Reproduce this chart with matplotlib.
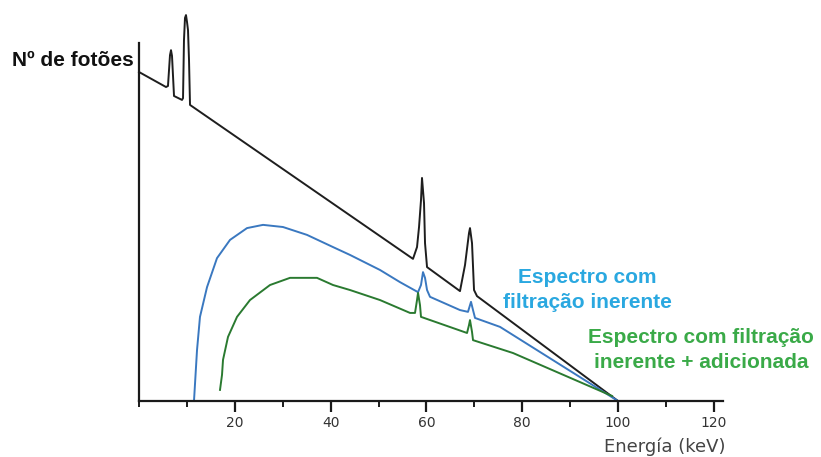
import numpy as np
import matplotlib.pyplot as plt
from matplotlib.ticker import MultipleLocator

# spectrum: energy (keV) vs photons (arbitrary units, 0-100)
black_e = [0, 5.64, 6.05, 6.47, 6.68, 6.89, 7.31, 8.98, 9.19, 9.39, 9.60, 9.81, 10.02, 10.23, 10.44, 10.65,
           57.2, 58.04, 58.46, 58.87, 59.08, 59.50, 59.71, 60.13, 67.01, 68.06, 68.89, 69.10, 69.52, 69.94,
           70.56, 100]
black_n = [91.9, 87.7, 88.0, 96.6, 98.0, 96.4, 85.2, 84.1, 84.6, 100.8, 107.0, 107.8, 105.9, 103.6, 95.3, 82.7,
           39.7, 43.0, 48.6, 56.1, 62.3, 55.3, 44.1, 37.4, 30.7, 38.0, 46.9, 48.3, 44.1, 31.0,
           29.3, 0]

blue_e = [11.48, 12.11, 12.73, 14.20, 16.28, 19.0, 22.55, 25.89, 30.06, 35.07, 40.50, 44.05, 50.31, 54.49,
          58.25, 58.87, 59.29, 59.71, 60.13, 60.75, 67.01, 68.68, 69.31, 69.73, 70.15, 75.37, 100]
blue_n = [0, 14.2, 23.5, 31.8, 39.9, 45.0, 48.3, 49.2, 48.6, 46.4, 43.0, 40.8, 36.6, 33.2,
          30.4, 32.4, 36.0, 34.4, 31.0, 29.1, 25.4, 24.9, 27.7, 25.4, 23.2, 20.7, 0]

green_e = [16.91, 17.33, 17.54, 18.58, 20.46, 23.17, 27.35, 31.52, 37.16, 40.50, 44.05, 50.31, 56.58, 57.62,
           58.04, 58.25, 58.66, 58.87, 68.48, 68.89, 69.10, 69.52, 69.73, 78.08, 98.75]
green_n = [3.1, 7.3, 11.5, 17.9, 23.5, 28.2, 32.4, 34.4, 34.4, 32.4, 31.0, 28.2, 24.6, 24.6,
           28.2, 30.2, 26.8, 23.5, 19.0, 21.2, 22.6, 19.3, 17.0, 13.4, 1.4]

major_ticks = [20, 40, 60, 80, 100, 120]

W, H = 821, 457
fig = plt.figure(figsize=(W / 100, H / 100), dpi=100)
ax = fig.add_axes([139 / W, 56 / H, 584.4 / W, 358 / H])

ax.plot(black_e, black_n, color='#1e1e1e', lw=1.4, clip_on=False)
ax.plot(blue_e, blue_n, color='#3a78c0', lw=1.4, clip_on=False)
ax.plot(green_e, green_n, color='#2a7a30', lw=1.4, clip_on=False)

ax.set_xlim(0, 122)
ax.set_ylim(0, 100)
ax.spines['top'].set_visible(False)
ax.spines['right'].set_visible(False)
for s in ('left', 'bottom'):
    ax.spines[s].set_linewidth(1.6)
    ax.spines[s].set_color('#1a1a1a')

ax.set_yticks([])
ax.set_xticks(major_ticks)
ax.xaxis.set_minor_locator(MultipleLocator(10))
ax.tick_params(axis='x', which='major', length=8, width=1.6, pad=3, labelsize=10,
               labelcolor='#333333', color='#1a1a1a')
ax.tick_params(axis='x', which='minor', length=4.5, width=1.4, color='#1a1a1a')

fig.text(134 / W, 1 - 60 / H, 'Nº de fotões', ha='right', va='center',
         fontsize=15, fontweight='bold', family='Liberation Sans', color='#111111')
fig.text(587 / W, 1 - 290 / H, 'Espectro com\nfiltração inerente', ha='center', va='center',
         fontsize=15, fontweight='bold', family='Liberation Sans', color='#2aa8e0', linespacing=1.35)
fig.text(701 / W, 1 - 350 / H, 'Espectro com filtração\ninerente + adicionada', ha='center', va='center',
         fontsize=15, fontweight='bold', family='Liberation Sans', color='#3aaa48', linespacing=1.35)
fig.text(665 / W, 1 - 447 / H, 'Energía (keV)', ha='center', va='center',
         fontsize=13, color='#444444')

fig.savefig('out.png', dpi=100)
